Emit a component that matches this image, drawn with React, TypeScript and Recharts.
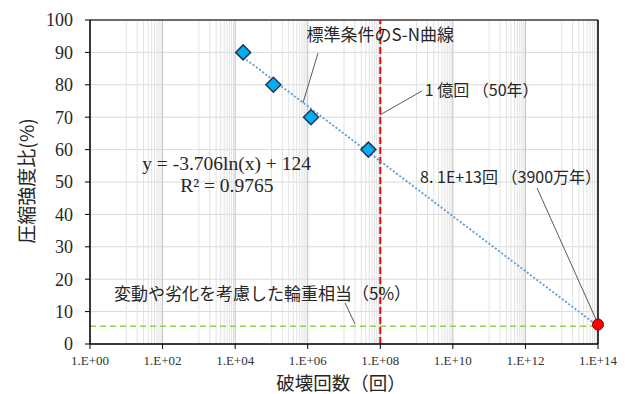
import { ComposedChart, XAxis, YAxis, CartesianGrid, Scatter, ReferenceLine, ReferenceDot } from 'recharts';

// S-N data (cycles, strength ratio %)
const snPoints = [
  { x: 1.66e4, y: 90 },
  { x: 1.13e5, y: 80 },
  { x: 1.23e6, y: 70 },
  { x: 4.7e7, y: 60 },
];
const limitPoint = [{ x: 1e14, y: 6 }];
const trendEnds = [
  { x: 1.66e4, y: 88.5 },
  { x: 1e14, y: 5.5 },
];
const wheelLoadLevel = 5.5;
const lifeCycles = 1e8;

const xTicks = [1, 1e2, 1e4, 1e6, 1e8, 1e10, 1e12, 1e14];
const yTicks = [0, 10, 20, 30, 40, 50, 60, 70, 80, 90, 100];
const minorSteps = [1, 2, 3, 4, 5, 6, 7, 8, 9];
const minorGrid = xTicks.slice(0, -1).flatMap((t) => minorSteps.map((k) => k * t * 10));

const cjk = '"Noto Sans CJK JP", "Noto Sans", sans-serif';
const serif = '"Liberation Serif", "DejaVu Serif", serif';
const ink = '#262626';
const leader = '#595959';

const fmtTick = (v: number) => '1.E+' + String(Math.round(Math.log10(v))).padStart(2, '0');

const Diamond = (props: any) => {
  const { cx, cy } = props;
  const r = 7.5;
  return (
    <polygon
      points={`${cx},${cy - r} ${cx + r},${cy} ${cx},${cy + r} ${cx - r},${cy}`}
      fill="#00b0f0"
      stroke="#1f3864"
      strokeWidth={1.5}
    />
  );
};

const RedDot = (props: any) => <circle cx={props.cx} cy={props.cy} r={5.5} fill="#ff0000" stroke="#7f0000" strokeWidth={1} />;

const note = (x: number, y: number, value: string, fontSize = 17, fontFamily = cjk) => (
  <ReferenceDot
    x={x}
    y={y}
    r={0}
    fill="none"
    stroke="none"
    ifOverflow="visible"
    label={{ value, position: 'center', fill: ink, fontSize, fontFamily }}
  />
);

const seg = (x1: number, y1: number, x2: number, y2: number) => (
  <ReferenceLine
    segment={[{ x: x1, y: y1 }, { x: x2, y: y2 }]}
    stroke={leader}
    strokeWidth={1}
    ifOverflow="visible"
  />
);

export default function App() {
  return (
    <div style={{ position: 'absolute', left: 0, top: 0, background: '#fff' }}>
      <ComposedChart width={633} height={394} margin={{ top: 20, right: 35, left: 0, bottom: 0 }}>
        {minorGrid.map((v) => (
          <ReferenceLine key={`m${v}`} x={v} stroke="#e2e2e2" strokeWidth={1} />
        ))}
        <CartesianGrid stroke="#d9d9d9" vertical={false} />
        {xTicks.map((v) => (
          <ReferenceLine key={`M${v}`} x={v} stroke="#bfbfbf" strokeWidth={1} />
        ))}
        <ReferenceLine y={100} stroke="#404040" strokeWidth={1.5} />
        <ReferenceLine x={1e14} stroke="#000" strokeWidth={1.5} />
        <XAxis
          type="number"
          dataKey="x"
          scale="log"
          domain={[1, 1e14]}
          ticks={xTicks}
          tickFormatter={fmtTick}
          height={50}
          axisLine={{ stroke: '#000', strokeWidth: 1.5 }}
          tickLine={{ stroke: '#000' }}
          tickSize={5}
          tickMargin={7}
          tick={{ fill: '#333', fontSize: 13, fontFamily: serif }}
          interval={0}
        />
        <YAxis
          type="number"
          dataKey="y"
          domain={[0, 100]}
          ticks={yTicks}
          width={90}
          axisLine={{ stroke: '#000', strokeWidth: 1.5 }}
          tickLine={{ stroke: '#000' }}
          tickSize={5}
          tickMargin={12}
          tick={{ fill: ink, fontSize: 18, fontFamily: serif }}
          interval={0}
        />
        <ReferenceLine y={wheelLoadLevel} stroke="#92d050" strokeWidth={1.5} strokeDasharray="6 4" />
        <ReferenceLine x={lifeCycles} stroke="#ff0000" strokeWidth={2} strokeDasharray="7 3" />
        <Scatter
          data={trendEnds}
          line={{ stroke: '#5b9bd5', strokeWidth: 1.8, strokeDasharray: '2 2' }}
          shape={() => null}
          isAnimationActive={false}
        />
        <Scatter data={snPoints} shape={<Diamond />} isAnimationActive={false} />
        <Scatter data={limitPoint} shape={<RedDot />} isAnimationActive={false} />

        {seg(1.92e6, 89.8, 7.4e5, 74.4)}
        {seg(1.41e9, 78.1, 9.8e7, 70.7)}
        {seg(2.1e12, 48.1, 1e14, 6.2)}
        {seg(1.07e7, 12.7, 2e7, 6.2)}

        {note(1e8, 95.4, '標準条件のS-N曲線')}
        {note(6.2e10, 78.4, '1 億回 （50年）', 16)}
        {note(3.9e11, 51.5, '8. 1E+13回 （3900万年）', 16)}
        {note(5.8e3, 55.9, 'y = -3.706ln(x)  + 124', 19.5, serif)}
        {note(5.9e3, 49.1, 'R² = 0.9765', 19.5, serif)}
        {note(5.7e4, 15.4, '変動や劣化を考慮した輪重相当（5%）')}

        <text x={341} y={382} textAnchor="middle" dominantBaseline="central" fontSize={18.5} fontFamily={cjk} fill={ink}>
          破壊回数（回）
        </text>
        <text
          x={25}
          y={181}
          textAnchor="middle"
          dominantBaseline="central"
          fontSize={19}
          fontFamily={cjk}
          fill={ink}
          transform="rotate(-90 25 181)"
        >
          圧縮強度比(%)
        </text>
      </ComposedChart>
    </div>
  );
}
